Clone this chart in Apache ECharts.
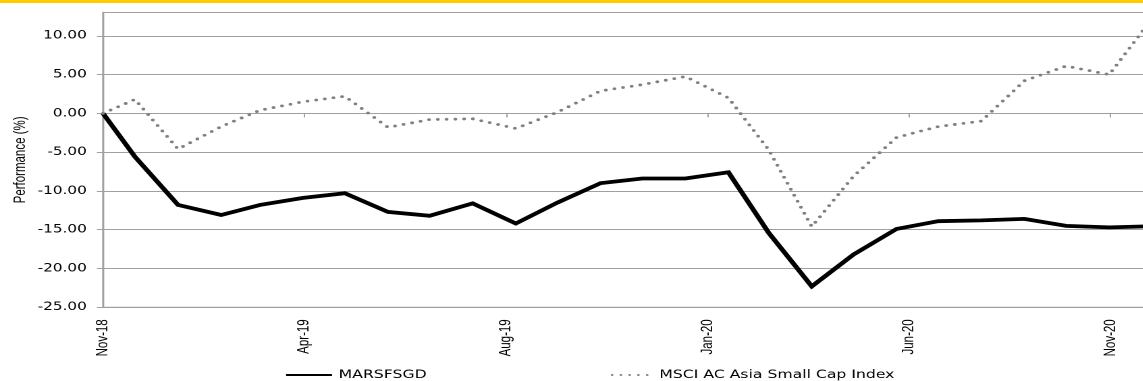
<!DOCTYPE html>
<html>
<head>
<meta charset="utf-8">
<script src="https://cdn.jsdelivr.net/npm/echarts@6/dist/echarts.min.js"></script>
<style>
  html, body { margin: 0; padding: 0; background: #ffffff; overflow: hidden; }
  #chart { height: 381px; transform-origin: 0 0; }
</style>
</head>
<body>
<div id="chart"></div>
<script>
// Month-end observation dates (first point is the launch date)
const dates = [
  '2018-11-07', '2018-11-30', '2018-12-31', '2019-01-31', '2019-02-28', '2019-03-31',
  '2019-04-30', '2019-05-31', '2019-06-30', '2019-07-31', '2019-08-31', '2019-09-30',
  '2019-10-31', '2019-11-30', '2019-12-31', '2020-01-31', '2020-02-29', '2020-03-31',
  '2020-04-30', '2020-05-31', '2020-06-30', '2020-07-31', '2020-08-31', '2020-09-30',
  '2020-10-31', '2020-11-30'
];

// Cumulative performance (%)
const fundReturns = [
  0.0, -5.6, -11.8, -13.1, -11.8, -10.9,
  -10.3, -12.7, -13.2, -11.6, -14.2, -11.5,
  -9.0, -8.4, -8.4, -7.6, -15.4, -22.3,
  -18.2, -14.9, -13.9, -13.8, -13.6, -14.5,
  -14.7, -14.55
];
const indexReturns = [
  0.0, 1.8, -4.6, -1.7, 0.4, 1.5,
  2.2, -1.8, -0.8, -0.7, -1.95, 0.15,
  2.9, 3.7, 4.75, 2.0, -4.7, -14.6,
  -8.1, -3.1, -1.7, -1.0, 4.2, 6.1,
  5.0, 12.0
];

const seriesNames = ['MARSFSGD', 'MSCI AC Asia Small Cap Index'];
const xTickLabels = ['Nov-18', 'Apr-19', 'Aug-19', 'Jan-20', 'Jun-20', 'Nov-20'];
const yTicks = [-25, -20, -15, -10, -5, 0, 5, 10];

// The chart is laid out in a narrower box and widened with CSS.
// The plot runs a little past the page's right edge, so the box is wider than the page.
const STRETCH = 1.35;
const BOX_PX = 1156;               // drawn width in page pixels
const boxW = BOX_PX / STRETCH;
const PLOT_LEFT_PX = 103;
const PX_PER_DAY = 1.3903;         // page pixels per day along the time axis
const el = document.getElementById('chart');
el.style.width = boxW + 'px';
el.style.transform = 'scaleX(' + STRETCH + ')';

const DAY_MS = 86400000;
const t0 = Date.parse(dates[0]);
const dayOffset = d => (Date.parse(d) - t0) / DAY_MS;
const TICK_DAYS = 145;
const X_MAX_DAYS = (BOX_PX - PLOT_LEFT_PX) / PX_PER_DAY;

const fundData = dates.map((d, i) => [dayOffset(d), fundReturns[i]]);
const indexData = dates.map((d, i) => [dayOffset(d), indexReturns[i]]);

const GRID_COLOR = '#a0a0a0';
const NARROW_FONT = '"Liberation Sans", Arial, sans-serif';
const WIDE_FONT = '"DejaVu Sans", Verdana, sans-serif';

const xLabel = v => {
  const k = v / TICK_DAYS;
  const r = Math.round(k);
  return Math.abs(k - r) < 1e-6 && xTickLabels[r] !== undefined ? xTickLabels[r] : '';
};

const legendText = { fontFamily: WIDE_FONT, fontSize: 11.6, color: '#000' };

const chart = echarts.init(el, null, { renderer: 'canvas', devicePixelRatio: 2 });

chart.setOption({
  animation: false,
  backgroundColor: '#ffffff',
  graphic: [{
    type: 'rect',
    shape: { x: 0, y: 0, width: boxW, height: 3 },
    style: { fill: '#ffcc00' },
    silent: true
  }],
  grid: {
    left: PLOT_LEFT_PX / STRETCH,
    right: 0,
    top: 12.5,
    bottom: 73.7,
    outerBoundsMode: 'none',
    containLabel: false,
    show: true,
    borderColor: GRID_COLOR,
    borderWidth: 1,
    backgroundColor: 'transparent'
  },
  legend: [
    {
      data: [seriesNames[0]],
      left: 278 / STRETCH,
      top: 364,
      itemWidth: 34,
      itemHeight: 14,
      itemStyle: { opacity: 0 },
      textStyle: legendText
    },
    {
      data: [seriesNames[1]],
      left: 604 / STRETCH,
      top: 364,
      itemWidth: 30,
      itemHeight: 14,
      itemStyle: { opacity: 0 },
      textStyle: legendText
    }
  ],
  xAxis: [
    {
      type: 'value',
      position: 'bottom',
      min: 0,
      max: X_MAX_DAYS,
      interval: TICK_DAYS,
      axisLine: { show: true, onZero: false, lineStyle: { color: GRID_COLOR, width: 1 } },
      axisTick: { show: false },
      splitLine: { show: false },
      axisLabel: {
        rotate: 90,
        margin: 12,
        showMaxLabel: false,
        fontFamily: NARROW_FONT,
        fontSize: 11.5,
        color: '#000',
        formatter: xLabel
      }
    },
    {
      // tick marks sitting on the zero line
      type: 'value',
      position: 'top',
      min: 0,
      max: X_MAX_DAYS,
      interval: TICK_DAYS,
      axisLine: { show: false, onZero: true },
      axisTick: { show: true, inside: true, length: 4, lineStyle: { color: GRID_COLOR } },
      axisLabel: { show: false },
      splitLine: { show: false }
    }
  ],
  yAxis: {
    type: 'value',
    min: -25,
    max: 13,
    interval: 5,
    name: 'Performance (%)',
    nameLocation: 'middle',
    nameRotate: 90,
    nameGap: 55,
    nameMoveOverlap: false,
    nameTextStyle: { fontFamily: NARROW_FONT, fontSize: 11.5, color: '#000' },
    axisLine: { show: true, onZero: false, lineStyle: { color: GRID_COLOR, width: 1.4 } },
    axisTick: { show: true, length: 4.5, customValues: yTicks, lineStyle: { color: GRID_COLOR } },
    splitLine: { show: true, lineStyle: { color: GRID_COLOR, width: 1 } },
    axisLabel: {
      margin: 12,
      customValues: yTicks,
      fontFamily: WIDE_FONT,
      fontSize: 11.3,
      color: '#000',
      formatter: v => (yTicks.indexOf(v) >= 0 ? v.toFixed(2) : '')
    }
  },
  series: [
    {
      name: seriesNames[0],
      type: 'line',
      data: fundData,
      symbol: 'none',
      clip: true,
      z: 3,
      lineStyle: { color: '#000000', width: 3.8, join: 'miter' },
      itemStyle: { color: '#000000' }
    },
    {
      name: seriesNames[1],
      type: 'line',
      data: indexData,
      symbol: 'none',
      clip: true,
      z: 4,
      lineStyle: { color: '#808080', width: 2.8, type: [0, 6.5], cap: 'round' },
      itemStyle: { color: '#808080' }
    }
  ]
});
</script>
</body>
</html>
